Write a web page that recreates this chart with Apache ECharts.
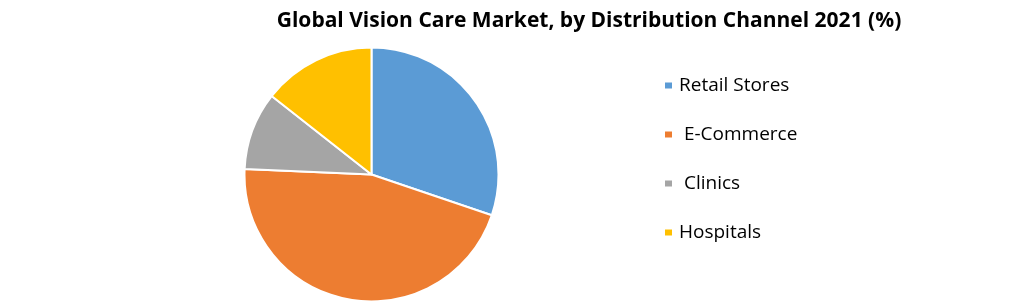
<!DOCTYPE html>
<html><head><meta charset="utf-8">
<script src="https://cdn.jsdelivr.net/npm/echarts@6/dist/echarts.min.js"></script>
<style>html,body{margin:0;padding:0;background:#fff}#c{width:1020px;height:303px}</style>
</head><body><div id="c"></div>
<script>
const categories = ['Retail Stores', ' E-Commerce', ' Clinics', 'Hospitals'];
const values = [30.2, 45.5, 9.9, 14.4];
const colors = ['#5B9BD5', '#ED7D31', '#A5A5A5', '#FFC000'];
const titleText = 'Global Vision Care Market, by Distribution Channel 2021 (%)';

const chart = echarts.init(document.getElementById('c'));
chart.setOption({
  animation: false,
  title: {
    text: titleText,
    left: 584, top: 6, textAlign: 'center',
    textStyle: { fontFamily: 'Open Sans', fontWeight: 'bold', fontSize: 21, color: '#000' }
  },
  legend: {
    orient: 'vertical', left: 658, top: 71,
    icon: 'rect', itemWidth: 9, itemHeight: 8, itemGap: 30,
    data: categories,
    textStyle: { fontFamily: 'Open Sans', fontSize: 19, color: '#000', padding: [0,0,0,1] }
  },
  series: [{
    type: 'pie',
    center: [371.5, 174.5],
    radius: [0, 127],
    startAngle: 90,
    clockwise: true,
    label: { show: false },
    labelLine: { show: false },
    itemStyle: { borderColor: '#fff', borderWidth: 2 },
    emphasis: { disabled: true },
    data: categories.map((n, i) => ({ name: n, value: values[i], itemStyle: { color: colors[i] } }))
  }]
});
</script></body></html>
